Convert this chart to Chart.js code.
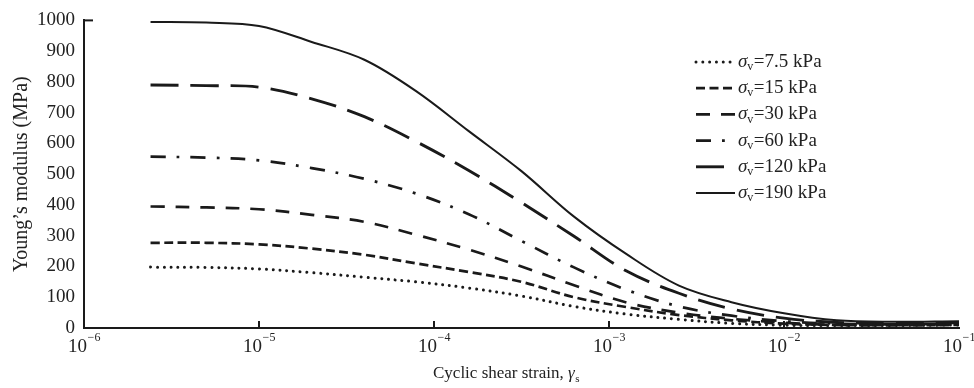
<!DOCTYPE html>
<html><head><meta charset="utf-8">
<script src="https://cdn.jsdelivr.net/npm/chart.js@4.4.1/dist/chart.umd.min.js"></script>
<style>html,body{margin:0;padding:0;background:#fff;}#wrap{width:974px;height:388px;position:relative;}</style>
</head><body><div id="wrap"><canvas id="c"></canvas></div>
<script>
// Cyclic shear strain (x values, log axis)
const strain = [2.4e-6, 5.0e-6, 1.0e-5, 2.0e-5, 4.0e-5, 7.9e-5, 1.58e-4, 3.16e-4, 6.31e-4, 1.26e-3, 2.51e-3, 5.01e-3, 1.0e-2, 2.0e-2, 3.98e-2, 1.0e-1];
// Vertical stress labels (kPa)
const stressLabels = ['7.5', '15', '30', '60', '120', '190'];
// Young's modulus (MPa) for each vertical stress
const E_7_5 = [198, 197, 192, 180, 165, 150, 130, 104, 70, 45, 28, 15, 9, 8, 8, 10];
const E_15  = [277, 277, 272, 258, 238, 210, 182, 150, 100, 68, 42, 25, 14, 10, 9, 10];
const E_30  = [395, 392, 386, 368, 345, 303, 255, 200, 139, 83, 50, 30, 17, 10, 9, 10];
const E_60  = [557, 554, 545, 520, 485, 437, 370, 283, 197, 124, 70, 40, 22, 14, 12, 14];
const E_120 = [790, 788, 783, 745, 687, 606, 512, 408, 298, 185, 113, 62, 32, 18, 15, 17];
const E_190 = [995, 993, 982, 930, 872, 770, 640, 510, 362, 240, 138, 84, 48, 25, 20, 22];
// Axis ticks
const xDecades = [-6, -5, -4, -3, -2, -1];
const yTicks = [0, 100, 200, 300, 400, 500, 600, 700, 800, 900, 1000];

const seriesValues = [E_7_5, E_15, E_30, E_60, E_120, E_190];
const styles = [
  {w: 3.0, dash: [0.01, 6.8], cap: 'round'},
  {w: 2.7, dash: [9, 4.5], cap: 'butt'},
  {w: 2.7, dash: [14, 11], cap: 'butt'},
  {w: 2.7, dash: [15, 11, 2.8, 11.2], cap: 'butt'},
  {w: 2.9, dash: [28, 12], cap: 'butt'},
  {w: 2.0, dash: [], cap: 'butt'}
];
const INK = '#1a1a1a';
const TXT = '#222';
const SERIF = "'Liberation Serif', 'Times New Roman', serif";

const datasets = seriesValues.map((vals, i) => ({
  label: stressLabels[i],
  data: strain.map((s, j) => ({x: s, y: vals[j]})),
  borderColor: INK,
  borderWidth: styles[i].w,
  borderDash: styles[i].dash,
  borderCapStyle: styles[i].cap,
  pointRadius: 0,
  fill: false,
  tension: 0.35
}));

const decorPlugin = {
  id: 'decor',
  afterDraw(chart) {
    const ctx = chart.ctx;
    const xs = chart.scales.x, ys = chart.scales.y;
    const ca = chart.chartArea;
    ctx.save();
    // x tick marks (inward)
    ctx.strokeStyle = INK; ctx.lineWidth = 2; ctx.setLineDash([]);
    xDecades.slice(1, -1).forEach(e => {
      const px = Math.round(xs.getPixelForValue(Math.pow(10, e)));
      ctx.beginPath(); ctx.moveTo(px, ca.bottom); ctx.lineTo(px, ca.bottom - 7); ctx.stroke();
    });
    // y top cap
    const ty = ys.getPixelForValue(1000);
    ctx.beginPath(); ctx.moveTo(ca.left - 1, ty); ctx.lineTo(ca.left + 9, ty); ctx.stroke();
    // x tick labels 10^e
    ctx.fillStyle = TXT; ctx.textBaseline = 'alphabetic'; ctx.textAlign = 'left';
    xDecades.forEach(e => {
      const px = xs.getPixelForValue(Math.pow(10, e));
      ctx.font = '19px ' + SERIF;
      const wb = ctx.measureText('10').width;
      ctx.font = '12px ' + SERIF;
      const sup = '\u2212' + Math.abs(e);
      const ws = ctx.measureText(sup).width;
      const x0 = px - (wb + ws) / 2;
      ctx.font = '19px ' + SERIF;
      ctx.fillText('10', x0, 352);
      ctx.font = '12px ' + SERIF;
      ctx.fillText(sup, x0 + wb + 0.5, 341);
    });
    // x title
    const t1 = 'Cyclic shear strain, ';
    ctx.font = '17px ' + SERIF;
    const w1 = ctx.measureText(t1).width;
    ctx.font = 'italic 17px ' + SERIF;
    const w2 = ctx.measureText('\u03B3').width;
    ctx.font = '11px ' + SERIF;
    const w3 = ctx.measureText('s').width;
    let tx = 506 - (w1 + w2 + w3) / 2;
    ctx.font = '17px ' + SERIF; ctx.fillText(t1, tx, 378);
    ctx.font = 'italic 17px ' + SERIF; ctx.fillText('\u03B3', tx + w1, 378);
    ctx.font = '11px ' + SERIF; ctx.fillText('s', tx + w1 + w2 + 0.5, 382);
    // legend
    chart.data.datasets.forEach((ds, i) => {
      const ly = 62 + i * 26.2;
      ctx.strokeStyle = INK; ctx.lineWidth = ds.borderWidth;
      ctx.setLineDash(ds.borderDash); ctx.lineCap = ds.borderCapStyle;
      ctx.beginPath(); ctx.moveTo(696, ly); ctx.lineTo(735, ly); ctx.stroke();
      ctx.setLineDash([]); ctx.lineCap = 'butt';
      ctx.fillStyle = TXT; ctx.textBaseline = 'middle';
      let lx = 738;
      ctx.font = 'italic 19px ' + SERIF; ctx.fillText('\u03C3', lx, ly); lx += ctx.measureText('\u03C3').width;
      ctx.font = '12px ' + SERIF; ctx.fillText('v', lx, ly + 5); lx += ctx.measureText('v').width + 0.5;
      ctx.font = '19px ' + SERIF; ctx.fillText('=' + ds.label + ' kPa', lx, ly);
    });
    ctx.restore();
  }
};

new Chart(document.getElementById('c'), {
  type: 'line',
  data: {datasets},
  options: {
    responsive: true,
    maintainAspectRatio: false,
    animation: false,
    layout: {padding: {top: 15, right: 15, left: 0, bottom: 0}},
    plugins: {legend: {display: false}, tooltip: {enabled: false}},
    scales: {
      x: {
        type: 'logarithmic', min: 1e-6, max: 1e-1,
        grid: {display: true, drawOnChartArea: false, drawTicks: false},
        border: {display: true, color: INK, width: 2},
        ticks: {display: false},
        afterFit: s => { s.height = 60; }
      },
      y: {
        min: 0, max: 1000,
        afterBuildTicks: s => { s.ticks = yTicks.map(v => ({value: v})); },
        grid: {display: true, drawOnChartArea: false, drawTicks: false},
        border: {display: true, color: INK, width: 2},
        ticks: {color: TXT, font: {family: SERIF, size: 19}, padding: 9,
                callback: v => String(v)},
        title: {display: true, text: 'Young\u2019s modulus (MPa)', color: TXT,
                font: {family: SERIF, size: 20}, padding: {top: 10, bottom: 0}},
        afterFit: s => { s.width = 84; }
      }
    }
  },
  plugins: [decorPlugin]
});
</script></body></html>
